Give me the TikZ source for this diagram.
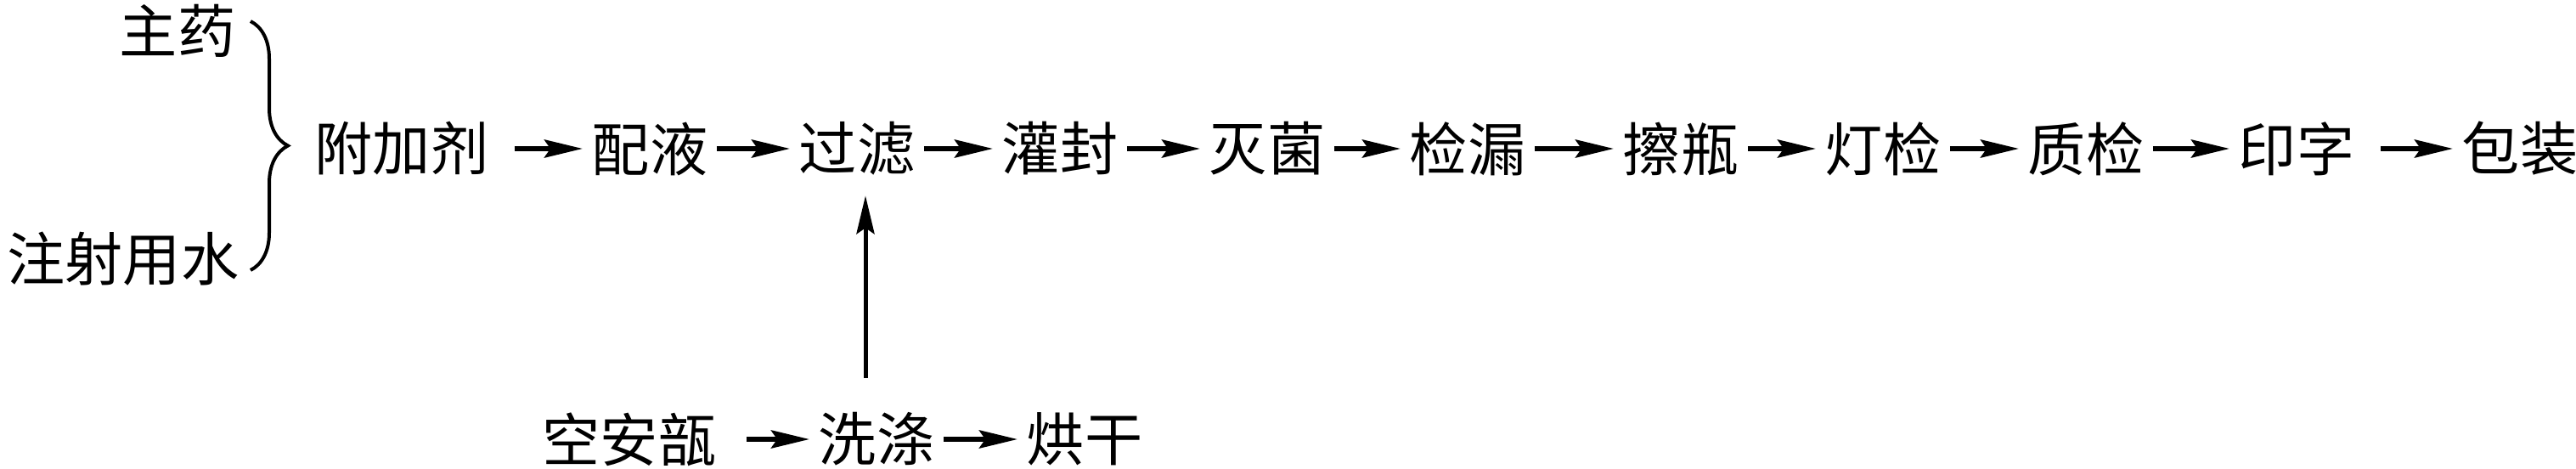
\documentclass[tikz,border=0pt]{standalone}
\usepackage{fontspec}
\setmainfont{Noto Sans CJK SC}
\usetikzlibrary{arrows.meta,decorations.pathreplacing}

\begin{document}
\begin{tikzpicture}[
    every node/.style={inner xsep=1mm, inner ysep=0pt, font=\fontsize{19.4pt}{24pt}\selectfont},
    >={Stealth[length=4.5mm, width=2.1mm, inset=0.7mm]}, % 箭头样式
    flow/.style={->, line width=0.6mm}
]
    \useasboundingbox (0,0) rectangle (30.33,5.51);
    \node[anchor=east] (s1) at (2.88, 5.15) {主药};
    \node[anchor=east] (s2) at (2.92, 2.46) {注射用水};
    \node (m1) at (4.73, 3.76) {附加剂};
    \node (m2) at (7.65, 3.76) {配液};
    \node (m3) at (10.09, 3.76) {过滤};
    \node (m4) at (12.48, 3.76) {灌封};
    \node (m5) at (14.92, 3.76) {灭菌};
    \node (m6) at (17.28, 3.76) {检漏};
    \node (m7) at (19.79, 3.76) {擦瓶};
    \node (m8) at (22.17, 3.76) {灯检};
    \node (m9) at (24.56, 3.76) {质检};
    \node (m10) at (27.04, 3.76) {印字};
    \node (m11) at (29.67, 3.76) {包装};
    \node (b1) at (7.41, 0.34) {空安瓿};
    \node (b2) at (10.32, 0.34) {洗涤};
    \node (b3) at (12.77, 0.34) {烘干};
    \coordinate (t1) at (2.95, 5.26);
    \coordinate (t2) at (2.95, 2.33);
    \draw[line width=0.4mm, decorate, decoration={brace, amplitude=4.4mm}] (t1) -- (t2);
    \draw[flow, shorten <=2mm] (m1) -- (m2);
    \draw[flow] (m2) -- (m3);
    \draw[flow] (m3) -- (m4);
    \draw[flow] (m4) -- (m5);
    \draw[flow] (m5) -- (m6);
    \draw[flow] (m6) -- (m7);
    \draw[flow] (m7) -- (m8);
    \draw[flow] (m8) -- (m9);
    \draw[flow] (m9) -- (m10);
    \draw[flow, shorten <=2mm] (m10) -- (m11);
    \draw[flow, shorten <=2.5mm] (b1) -- (b2);
    \draw[flow] (b2) -- (b3);
    \draw[flow, line width=0.5mm, shorten <=4mm, shorten >=2.3mm] ([xshift=1mm]m3.south |- b2.north) -- ([xshift=1mm]m3.south);
\end{tikzpicture}
\end{document}
